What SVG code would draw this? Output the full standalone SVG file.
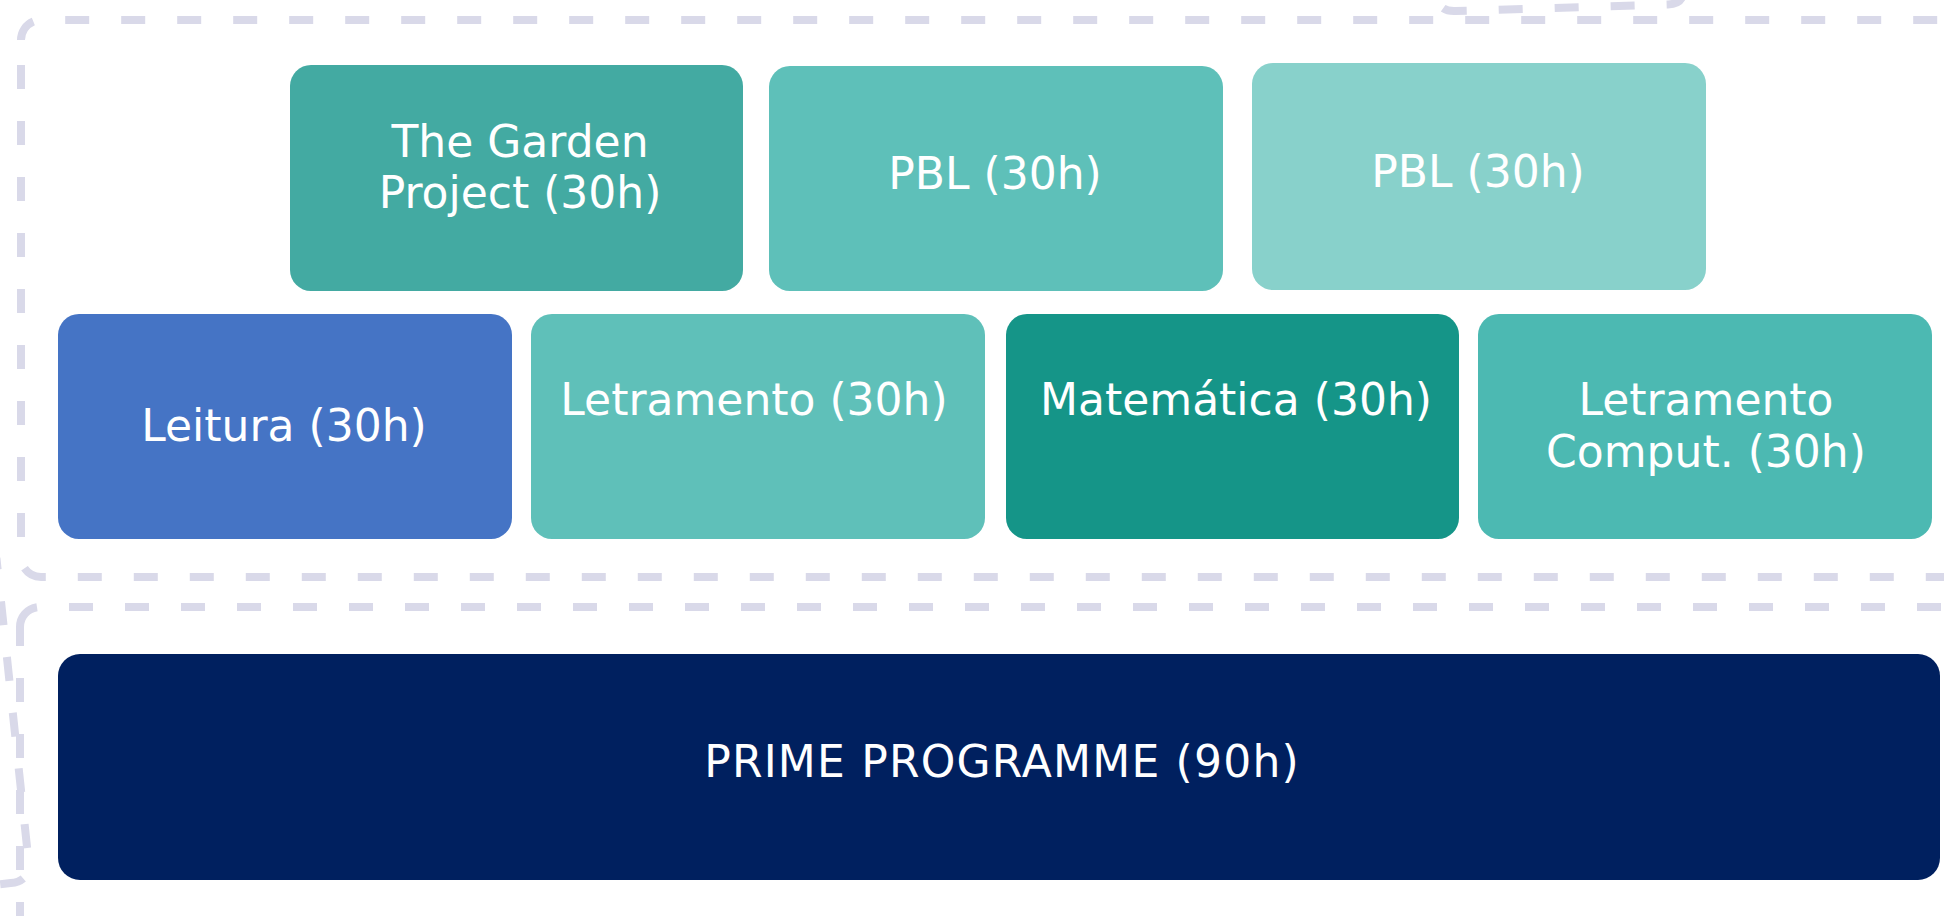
<svg xmlns="http://www.w3.org/2000/svg" width="1944" height="916" viewBox="0 0 1944 916">
  <style>
    .frame { fill: none; stroke: #D9D9E9; stroke-width: 8; stroke-linecap: butt; }
    .dash { stroke-dasharray: 24 32; }
    .box text { font-family: "DejaVu Sans", "Liberation Sans", sans-serif; font-size: 44px; fill: #FFFFFF; text-anchor: middle; }
  </style>
  <rect x="0" y="0" width="1944" height="916" fill="#FFFFFF"/>

  <g id="frames">
    <!-- upper container -->
    <path class="frame dash" style="stroke-dashoffset:0.6" d="M21,40 A20,20 0 0 1 41,20 H2000"/>
    <path class="frame dash" style="stroke-dashoffset:31" d="M21,40 V557 A20,20 0 0 0 41,577 H2000"/>
    <!-- lower container -->
    <path class="frame" d="M20,646 V627 A20,20 0 0 1 37,607.2"/>
    <path class="frame dash" d="M69,607 H2000"/>
    <path class="frame dash" d="M20,678 V1000"/>
    <!-- partially visible shapes at the edges -->
    <path class="frame dash" style="stroke-dashoffset:12.4" d="M-3.6,558 L28.5,861 Q30.6,881 10.7,883.1 L-60,890.6"/>
    <path class="frame dash" style="stroke-dashoffset:26" d="M1437,-20 L1437,-5 Q1438,11.5 1455,11 L1668,4.5 Q1684,4 1684,-12 L1684,-40"/>
  </g>

  <g id="node-garden" class="box">
    <rect x="290" y="65" width="453" height="226" rx="21" fill="#43AAA2"/>
    <text x="520" y="157">The Garden</text>
    <text x="520" y="208">Project (30h)</text>
  </g>
  <g id="node-pbl1" class="box">
    <rect x="769" y="66" width="454" height="225" rx="21" fill="#5EC0B9"/>
    <text x="995" y="189">PBL (30h)</text>
  </g>
  <g id="node-pbl2" class="box">
    <rect x="1252" y="63" width="454" height="227" rx="21" fill="#88D1CB"/>
    <text x="1478" y="187">PBL (30h)</text>
  </g>

  <g id="node-leitura" class="box">
    <rect x="58" y="314" width="454" height="225" rx="21" fill="#4574C5"/>
    <text x="284" y="441">Leitura (30h)</text>
  </g>
  <g id="node-letramento" class="box">
    <rect x="531" y="314" width="454" height="225" rx="21" fill="#5FC0B9"/>
    <text x="754" y="415">Letramento (30h)</text>
  </g>
  <g id="node-matematica" class="box">
    <rect x="1006" y="314" width="453" height="225" rx="21" fill="#159588"/>
    <text x="1236" y="415">Matemática (30h)</text>
  </g>
  <g id="node-computacional" class="box">
    <rect x="1478" y="314" width="454" height="225" rx="21" fill="#4CB9B2"/>
    <text x="1706" y="415">Letramento</text>
    <text x="1706" y="467">Comput. (30h)</text>
  </g>

  <g id="node-prime" class="box">
    <rect x="58" y="654" width="1882" height="226" rx="22" fill="#00205F"/>
    <text x="1002" y="777" letter-spacing="1.2">PRIME PROGRAMME (90h)</text>
  </g>
</svg>
